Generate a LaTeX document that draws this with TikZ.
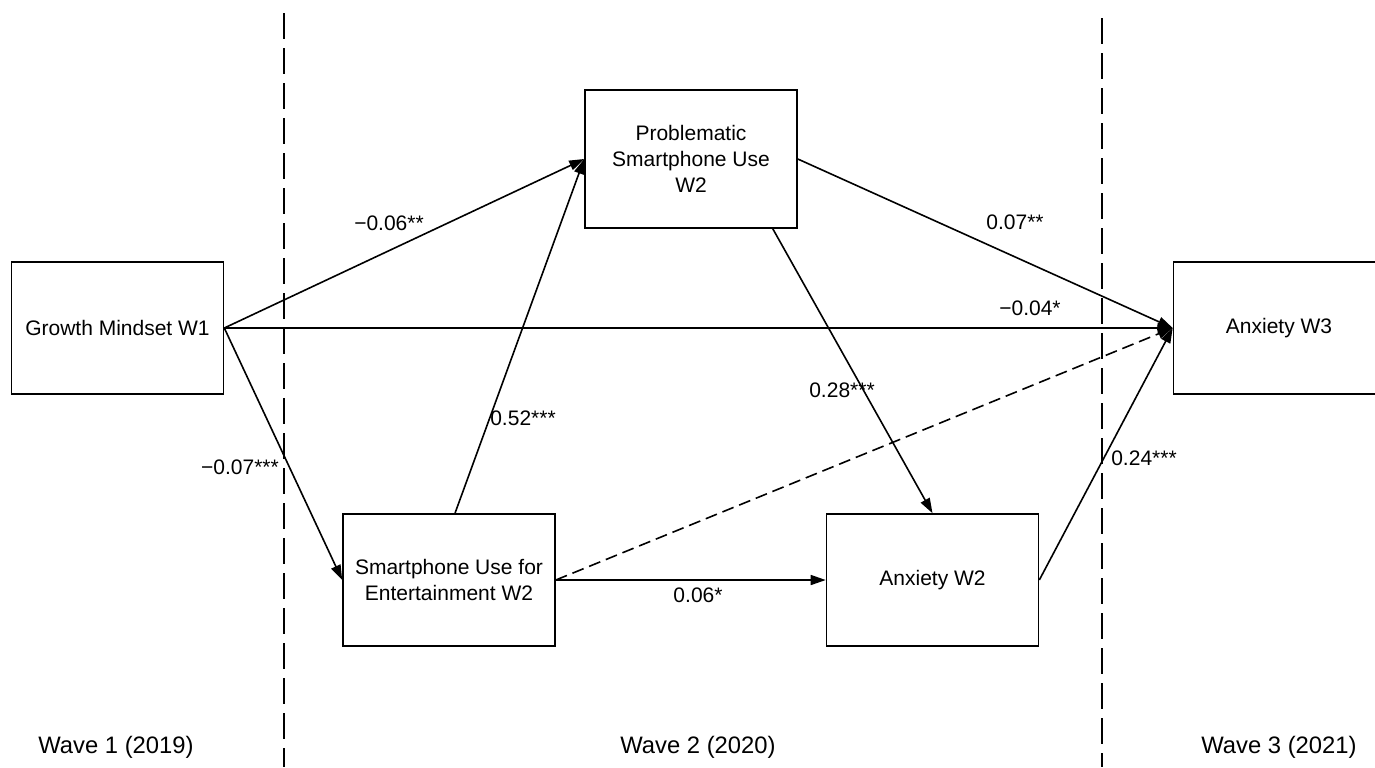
\documentclass[tikz,border=0pt]{standalone}
\usepackage{fontspec}
\setmainfont{Liberation Sans}
\usetikzlibrary{arrows.meta,calc}
\begin{document}
\begin{tikzpicture}[x=0.5pt,y=-0.5pt,
  box/.style={draw, line width=0.8pt, minimum width=106pt, minimum height=66pt, inner sep=2pt, align=center, font=\fontsize{10.5}{13}\selectfont},
  lab/.style={inner sep=0pt, font=\fontsize{10.5}{13}\selectfont},
  wave/.style={inner sep=0pt, font=\fontsize{11.9}{14}\selectfont},
  conn/.style={line width=0.8pt, -{Triangle[length=7.5pt,width=5pt]}},
  divider/.style={line width=0.6pt, dash pattern=on 13pt off 4.5pt}
]
\useasboundingbox (0,0) rectangle (1375,767);
\node[box] (GM) at (117.5,328) {Growth Mindset W1};
\node[box, minimum height=69pt] (Prob) at (691,159) {Problematic\\Smartphone Use\\W2};
\node[box] (AW3) at (1279.5,328) {};
\node[lab] (AW3t) at (1279,328) {Anxiety W3};
\node[box] (SUE) at (449,580) {Smartphone Use for\\Entertainment W2};
\node[box] (AW2) at (932.5,580) {Anxiety W2};

\coordinate (D1t) at (284,13);
\coordinate (D1b) at (284,767);
\coordinate (D2t) at (1102,18);
\coordinate (D2b) at (1102,767);
\draw[divider] (D1t) -- (D1b);
\draw[divider] (D2t) -- (D2b);

\coordinate (SUEtop) at ($(SUE.north)+(6,0)$);
\coordinate (ProbBot) at ($(Prob.south east)+(-25,0)$);

\draw[conn] (GM.east) -- (Prob.west);
\draw[conn] (GM.east) -- (AW3.west);
\draw[conn] (GM.east) -- (SUE.west);
\draw[conn] (SUEtop) -- (Prob.west);
\draw[conn] (Prob.east) -- (AW3.west);
\draw[conn] (ProbBot) -- (AW2.north);
\draw[conn] (SUE.east) -- (AW2.west);
\draw[conn, dash pattern=on 6pt off 3pt] (SUE.east) -- (AW3.west);
\draw[conn] (AW2.east) -- (AW3.west);

\node[lab] (l1) at (389,223) {−0.06**};
\node[lab] (l2) at (1030,308) {−0.04*};
\node[lab] (l3) at (240,467) {−0.07***};
\node[lab] (l4) at (523,418) {0.52***};
\node[lab] (l5) at (1015,222) {0.07**};
\node[lab] (l6) at (842,390) {0.28***};
\node[lab] (l7) at (698,595) {0.06*};
\node[lab] (l8) at (1144,458) {0.24***};

\node[wave] (w1) at (116,747) {Wave 1 (2019)};
\node[wave] (w2) at (698,747) {Wave 2 (2020)};
\node[wave] (w3) at (1279,747) {Wave 3 (2021)};
\end{tikzpicture}
\end{document}
